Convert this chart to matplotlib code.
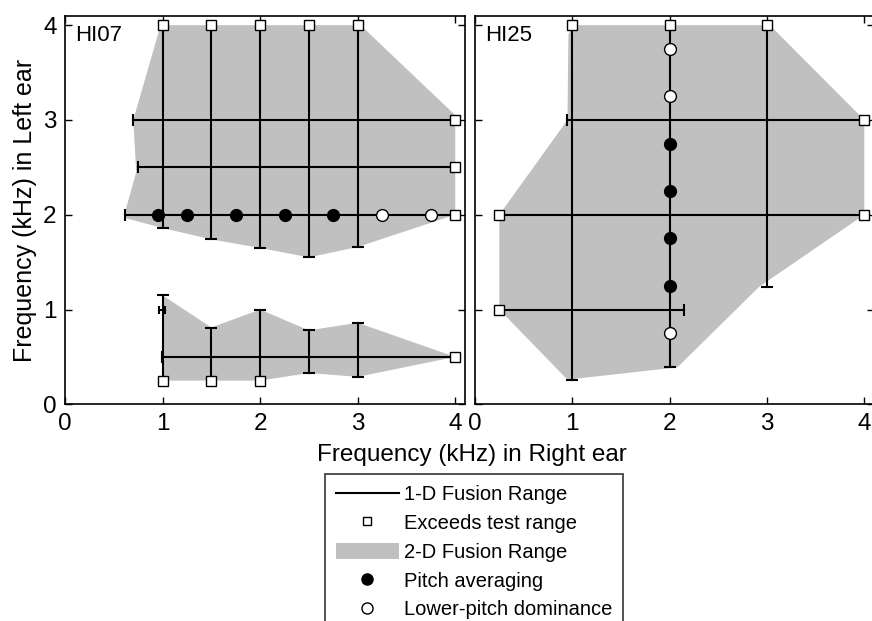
import matplotlib
matplotlib.use("Agg")
import matplotlib.pyplot as plt
from matplotlib.lines import Line2D
from matplotlib.patches import Patch

plt.rcParams["font.family"] = ["Liberation Sans", "DejaVu Sans"]

W, H, DPI = 872, 621, 100
GRAY = "#c0c0c0"

# ---- HI07 -------------------------------------------------------------
# 1-D fusion ranges with the right-ear frequency fixed (vertical lines):
# x, lower bound, upper bound, lower exceeds range, upper exceeds range
hi07_vx = [1.0, 1.5, 2.0, 2.5, 3.0, 1.0, 1.5, 2.0, 2.5, 3.0]
hi07_vlo = [1.86, 1.74, 1.65, 1.55, 1.66, 0.25, 0.25, 0.25, 0.33, 0.29]
hi07_vhi = [4.0, 4.0, 4.0, 4.0, 4.0, 1.15, 0.81, 1.0, 0.78, 0.86]
hi07_vlo_ex = [False, False, False, False, False, True, True, True, False, False]
hi07_vhi_ex = [True, True, True, True, True, False, False, False, False, False]
# 1-D fusion ranges with the left-ear frequency fixed (horizontal lines)
hi07_hy = [3.0, 2.5, 2.0, 0.5, 1.0]
hi07_hlo = [0.70, 0.75, 0.61, 0.99, 0.96]
hi07_hhi = [4.0, 4.0, 4.0, 4.0, 1.03]
hi07_hlo_ex = [False, False, False, False, False]
hi07_hhi_ex = [True, True, True, True, False]
# 2-D fusion range outlines
hi07_poly_upper_x = [0.98, 3.03, 4.0, 4.0, 3.0, 2.5, 2.0, 1.5, 1.0, 0.60, 0.73, 0.70]
hi07_poly_upper_y = [4.0, 4.0, 3.05, 2.0, 1.66, 1.55, 1.65, 1.74, 1.86, 1.97, 2.45, 3.0]
hi07_poly_lower_x = [1.0, 1.5, 2.0, 2.5, 3.0, 4.0, 3.0, 2.5, 2.0, 1.0]
hi07_poly_lower_y = [1.15, 0.81, 1.0, 0.78, 0.86, 0.5, 0.29, 0.33, 0.25, 0.25]
# Pitch judgements
hi07_avg_x = [0.95, 1.25, 1.75, 2.25, 2.75]
hi07_avg_y = [2.0, 2.0, 2.0, 2.0, 2.0]
hi07_low_x = [3.25, 3.75]
hi07_low_y = [2.0, 2.0]

# ---- HI25 -------------------------------------------------------------
hi25_vx = [1.0, 2.0, 3.0]
hi25_vlo = [0.26, 0.39, 1.24]
hi25_vhi = [4.0, 4.0, 4.0]
hi25_vlo_ex = [False, False, False]
hi25_vhi_ex = [True, True, True]
hi25_hy = [3.0, 2.0, 1.0]
hi25_hlo = [0.95, 0.25, 0.25]
hi25_hhi = [4.0, 4.0, 2.15]
hi25_hlo_ex = [False, True, True]
hi25_hhi_ex = [True, True, False]
hi25_poly_x = [1.0, 3.03, 4.0, 4.0, 2.92, 2.08, 0.95, 0.25, 0.25, 0.95, 0.96]
hi25_poly_y = [4.0, 4.0, 3.0, 2.0, 1.24, 0.39, 0.26, 1.0, 2.0, 3.0, 3.9]
hi25_avg_x = [2.0, 2.0, 2.0, 2.0]
hi25_avg_y = [2.75, 2.25, 1.75, 1.25]
hi25_low_x = [2.0, 2.0, 2.0]
hi25_low_y = [3.75, 3.25, 0.75]

ticks = [0, 1, 2, 3, 4]
tick_labels = ["0", "1", "2", "3", "4"]
legend_labels = ["1-D Fusion Range", "Exceeds test range", "2-D Fusion Range",
                 "Pitch averaging", "Lower-pitch dominance"]

LW = 1.5
SQ = dict(marker="s", ms=7, mfc="white", mec="black", mew=1.0, ls="none", zorder=6)
AVG = dict(marker="o", ms=8.5, mfc="black", mec="black", mew=1.0, ls="none", zorder=7)
LOW = dict(marker="o", ms=8.5, mfc="white", mec="black", mew=1.0, ls="none", zorder=7)


def draw_ranges(ax, vx, vlo, vhi, vlo_ex, vhi_ex, hy, hlo, hhi, hlo_ex, hhi_ex):
    for x, lo, hi, lex, hex_ in zip(vx, vlo, vhi, vlo_ex, vhi_ex):
        ax.plot([x, x], [lo, hi], color="black", lw=LW, zorder=4)
        for v, ex in ((lo, lex), (hi, hex_)):
            if ex:
                ax.plot([x], [v], **SQ)
            else:
                ax.plot([x], [v], marker="_", ms=9, mew=LW, color="black", zorder=4)
    for y, lo, hi, lex, hex_ in zip(hy, hlo, hhi, hlo_ex, hhi_ex):
        ax.plot([lo, hi], [y, y], color="black", lw=LW, zorder=4)
        small = (hi - lo) < 0.2
        for v, ex in ((lo, lex), (hi, hex_)):
            if ex:
                ax.plot([v], [y], **SQ)
            else:
                ax.plot([v], [y], marker="|", ms=6 if small else 9, mew=LW,
                        color="black", zorder=4)


def style_axes(ax, show_ylabels):
    ax.set_xlim(0, 4.1)
    ax.set_ylim(0, 4.1)
    ax.set_xticks(ticks)
    ax.set_xticklabels(tick_labels)
    ax.set_yticks(ticks)
    ax.set_yticklabels(tick_labels if show_ylabels else [])
    ax.tick_params(direction="in", length=5, width=1.0, top=True, right=True,
                   labelsize=17.5, pad=6)
    for s in ax.spines.values():
        s.set_linewidth(1.2)


fig = plt.figure(figsize=(W / DPI, H / DPI), dpi=DPI)
ax1 = fig.add_axes([65 / W, 1 - 404.3 / H, 400 / W, 388.6 / H])
ax2 = fig.add_axes([475 / W, 1 - 404.3 / H, 399 / W, 388.6 / H])

# HI07 panel
ax1.fill(hi07_poly_upper_x, hi07_poly_upper_y, color=GRAY, lw=0, zorder=1)
ax1.fill(hi07_poly_lower_x, hi07_poly_lower_y, color=GRAY, lw=0, zorder=1)
draw_ranges(ax1, hi07_vx, hi07_vlo, hi07_vhi, hi07_vlo_ex, hi07_vhi_ex,
            hi07_hy, hi07_hlo, hi07_hhi, hi07_hlo_ex, hi07_hhi_ex)
ax1.plot(hi07_avg_x, hi07_avg_y, **AVG)
ax1.plot(hi07_low_x, hi07_low_y, **LOW)
ax1.text(0.025, 0.975, "HI07", transform=ax1.transAxes, ha="left", va="top",
         fontsize=16)
style_axes(ax1, True)
ax1.set_ylabel("Frequency (kHz) in Left ear", fontsize=18, labelpad=4)

# HI25 panel
ax2.fill(hi25_poly_x, hi25_poly_y, color=GRAY, lw=0, zorder=1)
draw_ranges(ax2, hi25_vx, hi25_vlo, hi25_vhi, hi25_vlo_ex, hi25_vhi_ex,
            hi25_hy, hi25_hlo, hi25_hhi, hi25_hlo_ex, hi25_hhi_ex)
ax2.plot(hi25_avg_x, hi25_avg_y, **AVG)
ax2.plot(hi25_low_x, hi25_low_y, **LOW)
ax2.text(0.025, 0.975, "HI25", transform=ax2.transAxes, ha="left", va="top",
         fontsize=16)
style_axes(ax2, False)

fig.text(472 / W, 1 - 455 / H, "Frequency (kHz) in Right ear", ha="center",
         va="center", fontsize=17.5)

handles = [
    Line2D([], [], color="black", lw=LW),
    Line2D([], [], marker="s", ms=6, mfc="white", mec="black", mew=1.0, ls="none"),
    Patch(facecolor=GRAY, edgecolor="none"),
    Line2D([], [], marker="o", ms=8, mfc="black", mec="black", ls="none"),
    Line2D([], [], marker="o", ms=8, mfc="white", mec="black", mew=1.0, ls="none"),
]
leg = fig.legend(handles, legend_labels, loc="upper left",
                 bbox_to_anchor=(325 / W, 1 - 474 / H), fontsize=14.5,
                 frameon=True, fancybox=False, handlelength=3.1,
                 handleheight=0.9, handletextpad=0.25, labelspacing=0.47,
                 borderpad=0.55, borderaxespad=0)
leg.get_frame().set_edgecolor("black")
leg.get_frame().set_linewidth(1.2)

fig.savefig("out.png", dpi=DPI)
